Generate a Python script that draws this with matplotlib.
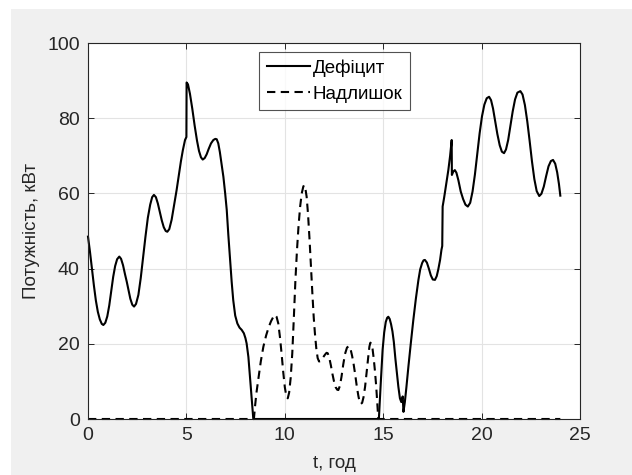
#!/usr/bin/env python3
# power deficit / surplus over the day

import matplotlib
matplotlib.use('Agg')
from matplotlib import pyplot as plt
from matplotlib.patches import Rectangle

# deficit, kW (solid)
deficit_t = [0.00, 0.10, 0.20, 0.30, 0.40, 0.50, 0.60, 0.70, 0.78, 0.88,
             0.98, 1.08, 1.18, 1.28, 1.38, 1.48, 1.59, 1.68, 1.78, 1.88,
             1.97, 2.06, 2.15, 2.25, 2.34, 2.44, 2.56, 2.68, 2.80, 2.92,
             3.04, 3.16, 3.26, 3.35, 3.45, 3.55, 3.65, 3.75, 3.85, 3.95,
             4.03, 4.13, 4.25, 4.38, 4.50, 4.62, 4.72, 4.82, 4.93, 5.00,
             5.01, 5.08, 5.18, 5.30, 5.42, 5.54, 5.64, 5.74, 5.83, 5.93,
             6.03, 6.13, 6.25, 6.37, 6.47, 6.54, 6.62, 6.70, 6.79, 6.88,
             6.97, 7.05, 7.13, 7.22, 7.30, 7.38, 7.48, 7.59, 7.70, 7.81,
             7.92, 8.00, 8.06, 8.15, 8.23, 8.32, 8.40, 14.78, 14.87, 14.97,
             15.05, 15.13, 15.20, 15.26, 15.33, 15.40, 15.47, 15.54, 15.62, 15.70,
             15.77, 15.85, 15.92, 15.97, 15.99, 16.03, 16.10, 16.18, 16.28, 16.40,
             16.53, 16.66, 16.79, 16.88, 16.98, 17.05, 17.12, 17.22, 17.32, 17.42,
             17.52, 17.63, 17.72, 17.80, 17.89, 17.96, 18.00, 18.02, 18.10, 18.20,
             18.31, 18.40, 18.48, 18.49, 18.56, 18.64, 18.72, 18.82, 18.94, 19.06,
             19.18, 19.30, 19.42, 19.54, 19.66, 19.78, 19.90, 20.02, 20.14, 20.26,
             20.38, 20.48, 20.58, 20.68, 20.80, 20.92, 21.03, 21.14, 21.24, 21.35,
             21.46, 21.58, 21.70, 21.82, 21.97, 22.08, 22.20, 22.32, 22.44, 22.56,
             22.68, 22.80, 22.93, 23.04, 23.16, 23.28, 23.40, 23.52, 23.63, 23.74,
             23.84, 23.93, 24.00]
deficit_p = [48.5, 44.5, 40.0, 35.5, 31.5, 28.5, 26.5, 25.3, 25.0, 25.6,
             27.3, 30.2, 34.0, 37.8, 40.7, 42.5, 43.2, 42.6, 40.9, 38.5,
             36.5, 34.2, 32.0, 30.4, 29.9, 30.6, 33.0, 37.5, 43.0, 48.5,
             53.5, 57.0, 59.0, 59.6, 59.0, 57.3, 55.0, 52.8, 51.0, 50.0,
             49.8, 50.5, 53.0, 57.0, 60.8, 65.0, 68.5, 71.5, 74.2, 75.0,
             89.5, 89.0, 86.5, 82.5, 78.0, 74.0, 71.3, 69.6, 69.0, 69.4,
             70.4, 71.8, 73.3, 74.2, 74.5, 74.4, 73.3, 71.0, 67.8, 64.4,
             60.0, 55.6, 49.0, 42.3, 36.5, 31.6, 27.5, 25.4, 24.3, 23.7,
             22.8, 21.5, 20.1, 16.5, 11.3, 5.5, 0.0, 0.0, 9.0, 18.4,
             23.0, 25.8, 26.9, 27.2, 26.6, 25.2, 23.3, 20.5, 16.0, 12.0,
             8.6, 5.5, 4.5, 5.5, 6.0, 1.9, 4.5, 8.5, 13.9, 20.0,
             26.3, 32.0, 37.0, 39.8, 41.5, 42.2, 42.3, 41.6, 40.0, 38.2,
             37.1, 37.0, 38.0, 39.8, 42.3, 45.0, 46.0, 56.5, 59.0, 62.5,
             66.2, 70.0, 74.2, 64.9, 65.8, 66.2, 65.5, 63.5, 60.5, 58.5,
             57.0, 56.5, 57.5, 60.5, 65.0, 70.5, 76.0, 80.5, 83.6, 85.3,
             85.7, 84.8, 82.6, 79.5, 75.8, 72.8, 71.1, 70.7, 71.7, 74.2,
             77.8, 81.8, 85.0, 86.8, 87.2, 86.3, 83.5, 79.2, 74.0, 68.5,
             63.8, 60.6, 59.3, 59.9, 61.8, 64.6, 67.2, 68.6, 68.9, 67.9,
             65.6, 62.5, 59.4]

# surplus, kW (dashed)
surplus_t = [0.00, 8.43, 8.48, 8.56, 8.65, 8.78, 8.91, 9.05, 9.18, 9.30,
             9.42, 9.50, 9.58, 9.67, 9.76, 9.84, 9.92, 10.00, 10.08, 10.15,
             10.22, 10.30, 10.38, 10.46, 10.54, 10.62, 10.70, 10.78, 10.86, 10.94,
             10.98, 11.04, 11.11, 11.18, 11.26, 11.33, 11.40, 11.47, 11.53, 11.60,
             11.67, 11.74, 11.82, 11.92, 12.04, 12.12, 12.18, 12.26, 12.34, 12.42,
             12.50, 12.58, 12.66, 12.72, 12.80, 12.88, 12.97, 13.06, 13.16, 13.26,
             13.34, 13.42, 13.50, 13.58, 13.66, 13.74, 13.80, 13.86, 13.93, 14.00,
             14.08, 14.16, 14.24, 14.30, 14.35, 14.40, 14.46, 14.52, 14.58, 14.64,
             14.69, 14.75, 24.00]
surplus_p = [0.0, 0.0, 3.0, 7.0, 10.4, 15.3, 19.2, 22.2, 24.4, 26.0,
             27.2, 27.7, 27.2, 25.4, 21.5, 17.2, 12.5, 8.5, 6.0, 5.5,
             7.0, 11.0, 17.5, 27.0, 37.0, 45.0, 51.5, 56.5, 60.0, 61.8,
             62.2, 61.5, 59.1, 54.5, 47.5, 40.5, 33.5, 27.0, 22.8, 18.8,
             16.2, 15.3, 15.4, 16.2, 17.1, 17.6, 17.5, 16.3, 14.3, 12.0,
             10.0, 8.5, 7.8, 7.7, 8.8, 11.2, 14.5, 17.3, 19.0, 19.4,
             18.6, 16.8, 14.5, 11.7, 8.6, 6.1, 4.6, 4.0, 4.3, 5.8,
             8.6, 12.5, 16.5, 19.3, 20.3, 20.0, 18.6, 16.0, 12.8, 9.0,
             5.0, 0.0, 0.0]

x_ticks = [0, 5, 10, 15, 20, 25]
y_ticks = [0, 20, 40, 60, 80, 100]
labels = ['Дефіцит', 'Надлишок']

W, H = 632, 475


def main():
    plt.rcParams['font.family'] = ['Liberation Sans', 'DejaVu Sans']
    fig = plt.figure(figsize=(W / 100, H / 100), dpi=100, facecolor='white')
    # grey window background with the white screenshot margin top/left
    fig.patches.append(Rectangle((11 / W, 0), 1, 1 - 9 / H,
                                 transform=fig.transFigure,
                                 facecolor='#f0f0f0', edgecolor='none',
                                 zorder=-10))

    ax = fig.add_axes([88 / W, 1 - 419 / H, 492 / W, 376 / H])
    ax.plot(deficit_t, deficit_p, color='black', lw=1.5, label=labels[0],
            clip_on=False)
    ax.plot(surplus_t, surplus_p, color='black', lw=1.5, ls=(0, (4, 2.6)),
            label=labels[1], clip_on=False)

    ax.set_xlim(0, 25)
    ax.set_ylim(0, 100)
    ax.set_xticks(x_ticks)
    ax.set_yticks(y_ticks)
    ax.grid(True, color='#e3e3e3', lw=0.8)
    ax.set_axisbelow(True)
    ax.tick_params(direction='in', length=4, width=0.7, top=True, right=True,
                   labelsize=14, colors='#262626', pad=6)
    for s in ax.spines.values():
        s.set_color('#262626')
        s.set_linewidth(0.8)

    ax.set_xlabel('t, год', fontsize=13.5, color='#262626', labelpad=8)
    ax.set_ylabel('Потужність, кВт', fontsize=13.5, color='#262626',
                  labelpad=5)

    leg = ax.legend(loc='upper center', bbox_to_anchor=(0.501, 0.976),
                    fontsize=13.5, frameon=True, fancybox=False,
                    handlelength=2.3, handletextpad=0.15, labelspacing=0.45,
                    borderpad=0.4, borderaxespad=0)
    leg.get_frame().set_edgecolor('#262626')
    leg.get_frame().set_linewidth(0.8)

    fig.savefig('out.png', dpi=100, facecolor=fig.get_facecolor())


if __name__ == '__main__':
    main()
